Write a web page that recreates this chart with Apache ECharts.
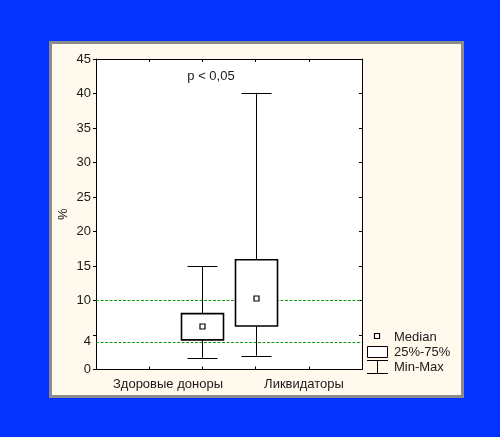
<!DOCTYPE html>
<html>
<head>
<meta charset="utf-8">
<script src="https://cdn.jsdelivr.net/npm/echarts@6/dist/echarts.min.js"></script>
<style>
  html, body { margin: 0; padding: 0; background: #0433FF; }
  #chart { width: 500px; height: 437px; }
</style>
</head>
<body>
<div id="chart"></div>
<script>
// Groups and their summary statistics (percent)
const groups = ['Здоровые доноры', 'Ликвидаторы'];
const groupX = [2, 3];
const minVals = [1.7, 2.0];
const q1Vals = [4.3, 6.3];
const medianVals = [6.3, 10.3];
const q3Vals = [8.1, 15.9];
const maxVals = [15.0, 40.1];

// Reference levels drawn as dashed lines
const refLevels = [10, 4];

// Y-axis tick and label values
const yTicks = [0, 5, 10, 15, 20, 25, 30, 35, 40, 45];
const yLabels = [0, 4, 10, 15, 20, 25, 30, 35, 40, 45];

const pText = 'p < 0,05';
const legendItems = ['Median', '25%-75%', 'Min-Max'];

const boxData = groups.map((g, i) => [groupX[i], minVals[i], q1Vals[i], medianVals[i], q3Vals[i], maxVals[i]]);

const FONT = 'Liberation Sans, Arial, sans-serif';
const FS = 13;
const TXT = '#1a1a1a';
const BOX_W = 42, CAP_W = 30, MED = 5;

function renderBox(params, api) {
  const x = api.value(0);
  const pMin = api.coord([x, api.value(1)]);
  const pQ1 = api.coord([x, api.value(2)]);
  const pMed = api.coord([x, api.value(3)]);
  const pQ3 = api.coord([x, api.value(4)]);
  const pMax = api.coord([x, api.value(5)]);
  const cx = Math.round(pMin[0]) + 0.5;
  const line = { stroke: '#000', lineWidth: 1 };
  return {
    type: 'group',
    children: [
      { type: 'line', shape: { x1: cx, y1: pMax[1], x2: cx, y2: pQ3[1] }, style: line },
      { type: 'line', shape: { x1: cx, y1: pQ1[1], x2: cx, y2: pMin[1] }, style: line },
      { type: 'line', shape: { x1: cx - CAP_W / 2, y1: Math.round(pMax[1]) + 0.5, x2: cx + CAP_W / 2, y2: Math.round(pMax[1]) + 0.5 }, style: line },
      { type: 'line', shape: { x1: cx - CAP_W / 2, y1: Math.round(pMin[1]) + 0.5, x2: cx + CAP_W / 2, y2: Math.round(pMin[1]) + 0.5 }, style: line },
      { type: 'rect', shape: { x: cx - BOX_W / 2, y: pQ3[1], width: BOX_W, height: pQ1[1] - pQ3[1] },
        style: { fill: '#fff', stroke: '#000', lineWidth: 1.6 } },
      { type: 'rect', shape: { x: cx - MED / 2, y: Math.round(pMed[1]) - MED / 2 + 0.5, width: MED, height: MED },
        style: { fill: '#fff', stroke: '#000', lineWidth: 1.2 } }
    ]
  };
}

const chart = echarts.init(document.getElementById('chart'), null, { renderer: 'canvas' });

const axisLine = { show: true, onZero: false, lineStyle: { color: '#000', width: 1 } };

chart.setOption({
  backgroundColor: '#0433FF',
  animation: false,
  textStyle: { fontFamily: FONT },
  grid: { left: 96, top: 59, width: 266, height: 310.5, show: true, backgroundColor: '#fff', borderWidth: 0 },
  xAxis: [
    {
      type: 'value', min: 0, max: 5, position: 'bottom',
      axisLine: axisLine,
      axisTick: { show: true, inside: true, length: 3, customValues: [1, 2, 3, 4], lineStyle: { color: '#000' } },
      axisLabel: {
        show: true, margin: 8, fontSize: FS, color: TXT, fontFamily: FONT,
        customValues: [1.353, 3.91],
        formatter: v => (v < 2.5 ? groups[0] : groups[1])
      },
      splitLine: { show: false }
    },
    {
      type: 'value', min: 0, max: 5, position: 'top',
      axisLine: axisLine,
      axisTick: { show: true, inside: true, length: 3, customValues: [1, 2, 3, 4], lineStyle: { color: '#000' } },
      axisLabel: { show: false },
      splitLine: { show: false }
    }
  ],
  yAxis: [
    {
      type: 'value', min: 0, max: 45, interval: 5, position: 'left',
      name: '%', nameLocation: 'middle', nameGap: 26, nameRotate: 90, nameMoveOverlap: false,
      nameTextStyle: { fontSize: FS, color: TXT, fontFamily: FONT },
      axisLine: axisLine,
      axisTick: { show: true, inside: false, length: 3, customValues: yTicks, lineStyle: { color: '#000' } },
      axisLabel: { margin: 5, fontSize: FS, color: TXT, fontFamily: FONT, customValues: yLabels },
      splitLine: { show: false }
    },
    {
      type: 'value', min: 0, max: 45, interval: 5, position: 'right',
      axisLine: axisLine,
      axisTick: { show: true, inside: true, length: 3, customValues: yTicks, lineStyle: { color: '#000' } },
      axisLabel: { show: false },
      splitLine: { show: false }
    }
  ],
  series: [
    {
      type: 'custom',
      xAxisIndex: 0, yAxisIndex: 0,
      data: boxData,
      renderItem: renderBox,
      z: 5,
      markLine: {
        silent: true,
        symbol: 'none',
        label: { show: false },
        lineStyle: { color: '#169816', type: [3, 1.5], width: 1 },
        data: refLevels.map(v => ({ yAxis: v })),
        z: 3
      }
    }
  ],
  graphic: [
    { type: 'rect', z: -100, shape: { x: 50.5, y: 42.5, width: 412, height: 354 },
      style: { fill: '#FFF9EE', stroke: '#8c8c8c', lineWidth: 3 } },
    { type: 'text', z: 10, x: 211, y: 76,
      style: { text: pText, font: FS + 'px ' + FONT, fill: TXT, align: 'center', verticalAlign: 'middle' } },
    // legend
    { type: 'rect', z: 10, shape: { x: 374.5, y: 333.5, width: 5, height: 5 },
      style: { fill: '#fff', stroke: '#000', lineWidth: 1.2 } },
    { type: 'text', z: 10, x: 394, y: 337,
      style: { text: legendItems[0], font: FS + 'px ' + FONT, fill: TXT, verticalAlign: 'middle' } },
    { type: 'rect', z: 10, shape: { x: 367.5, y: 346.5, width: 20, height: 11 },
      style: { fill: '#fff', stroke: '#000', lineWidth: 1 } },
    { type: 'text', z: 10, x: 394, y: 352,
      style: { text: legendItems[1], font: FS + 'px ' + FONT, fill: TXT, verticalAlign: 'middle' } },
    { type: 'line', z: 10, shape: { x1: 367, y1: 360.5, x2: 388, y2: 360.5 }, style: { stroke: '#000', lineWidth: 1 } },
    { type: 'line', z: 10, shape: { x1: 377.5, y1: 360.5, x2: 377.5, y2: 373.5 }, style: { stroke: '#000', lineWidth: 1 } },
    { type: 'line', z: 10, shape: { x1: 367, y1: 373.5, x2: 388, y2: 373.5 }, style: { stroke: '#000', lineWidth: 1 } },
    { type: 'text', z: 10, x: 394, y: 367.5,
      style: { text: legendItems[2], font: FS + 'px ' + FONT, fill: TXT, verticalAlign: 'middle' } }
  ]
});
</script>
</body>
</html>
